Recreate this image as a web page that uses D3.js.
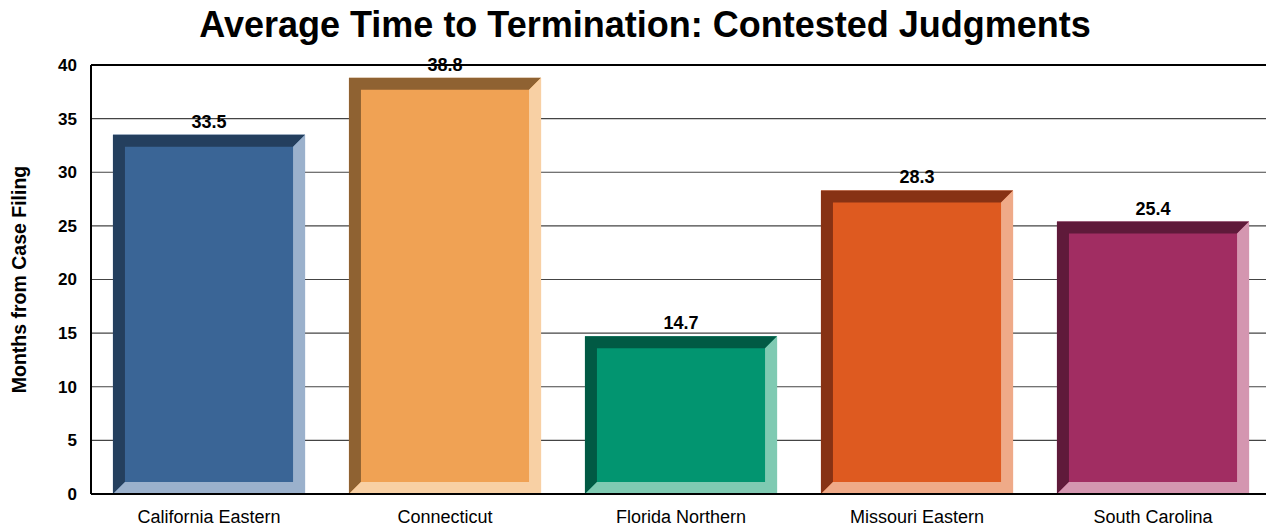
<!DOCTYPE html>
<html>
<head>
<meta charset="utf-8">
<script src="https://cdn.jsdelivr.net/npm/d3@7"></script>
<style>
  body { margin: 0; background: #fff; }
  svg { display: block; font-family: "Liberation Sans", Arial, sans-serif; }
</style>
</head>
<body>
<svg id="chart" width="1266" height="529"></svg>
<script>
// data
const districts = ["California Eastern", "Connecticut", "Florida Northern", "Missouri Eastern", "South Carolina"];
const months = [33.5, 38.8, 14.7, 28.3, 25.4];
const yTicks = [0, 5, 10, 15, 20, 25, 30, 35, 40];

// face / dark bevel / light bevel for each bar
const faceColors = ["#3a6596", "#f0a254", "#029570", "#de5a20", "#a12d62"];
const darkColors = ["#243f5e", "#8f6232", "#015a44", "#873214", "#5f1a3a"];
const lightColors = ["#9bb1cc", "#f8d0a4", "#7fcab2", "#efaa88", "#d496b0"];

const W = 1266, H = 529;
const margin = {left: 91, top: 65, right: -5, bottom: 35};
const BEVEL = 12;

const svg = d3.select("#chart");

const x = d3.scaleBand()
  .domain(districts)
  .range([margin.left, W - margin.right])
  .paddingInner(0.186)
  .paddingOuter(0.093);

const y = d3.scaleLinear()
  .domain([0, 40])
  .range([H - margin.bottom, margin.top]);

// title
svg.append("text")
  .attr("x", 645)
  .attr("y", 37)
  .attr("text-anchor", "middle")
  .attr("font-size", 36)
  .attr("font-weight", "bold")
  .text("Average Time to Termination: Contested Judgments");

// gridlines
svg.append("g")
  .selectAll("line")
  .data(yTicks.filter(d => d > 0))
  .join("line")
  .attr("x1", margin.left)
  .attr("x2", W)
  .attr("y1", d => y(d))
  .attr("y2", d => y(d))
  .attr("stroke", d => d == 40 ? "#000" : "#444")
  .attr("stroke-width", d => d == 40 ? 2 : 1.2);

// bars with bevel edges
const bars = svg.append("g")
  .selectAll("g")
  .data(districts)
  .join("g");

bars.each(function(d, i) {
  const g = d3.select(this);
  const x0 = x(d), x1 = x(d) + x.bandwidth();
  const y0 = y(months[i]), y1 = y(0);
  const b = BEVEL;
  g.append("rect")
    .attr("x", x0).attr("y", y0)
    .attr("width", x1 - x0).attr("height", y1 - y0)
    .attr("fill", faceColors[i]);
  // top + left (dark)
  g.append("path")
    .attr("d", `M${x0},${y1} L${x0},${y0} L${x1},${y0} L${x1 - b},${y0 + b} L${x0 + b},${y0 + b} L${x0 + b},${y1 - b} Z`)
    .attr("fill", darkColors[i]);
  // right + bottom (light)
  g.append("path")
    .attr("d", `M${x1},${y0} L${x1},${y1} L${x0},${y1} L${x0 + b},${y1 - b} L${x1 - b},${y1 - b} L${x1 - b},${y0 + b} Z`)
    .attr("fill", lightColors[i]);
});

// value labels
svg.append("g")
  .selectAll("text")
  .data(districts)
  .join("text")
  .attr("x", d => x(d) + x.bandwidth() / 2)
  .attr("y", (d, i) => y(months[i]) - 7)
  .attr("text-anchor", "middle")
  .attr("font-size", 18)
  .attr("font-weight", "bold")
  .text((d, i) => months[i].toFixed(1));

// frame: left and bottom axis lines
svg.append("line")
  .attr("x1", margin.left).attr("x2", margin.left)
  .attr("y1", y(40)).attr("y2", y(0))
  .attr("stroke", "#000").attr("stroke-width", 2);
svg.append("line")
  .attr("x1", margin.left).attr("x2", W)
  .attr("y1", y(0)).attr("y2", y(0))
  .attr("stroke", "#000").attr("stroke-width", 2);

// y axis
const yAxis = svg.append("g")
  .attr("transform", `translate(${margin.left},0)`)
  .call(d3.axisLeft(y).tickValues(yTicks).tickSize(0).tickPadding(14));
yAxis.select(".domain").remove();
yAxis.selectAll("text")
  .attr("font-size", 17)
  .attr("font-weight", "bold")
  .attr("fill", "#000")
  .attr("font-family", "Liberation Sans, Arial, sans-serif");

// x axis
const xAxis = svg.append("g")
  .attr("transform", `translate(0,${y(0)})`)
  .call(d3.axisBottom(x).tickSize(0).tickPadding(16));
xAxis.select(".domain").remove();
xAxis.selectAll("text")
  .attr("font-size", 18)
  .attr("fill", "#000")
  .attr("font-family", "Liberation Sans, Arial, sans-serif");

// y label
svg.append("text")
  .attr("transform", `translate(26,${(y(0) + y(40)) / 2}) rotate(-90)`)
  .attr("text-anchor", "middle")
  .attr("font-size", 19.5)
  .attr("font-weight", "bold")
  .text("Months from Case Filing");
</script>
</body>
</html>
